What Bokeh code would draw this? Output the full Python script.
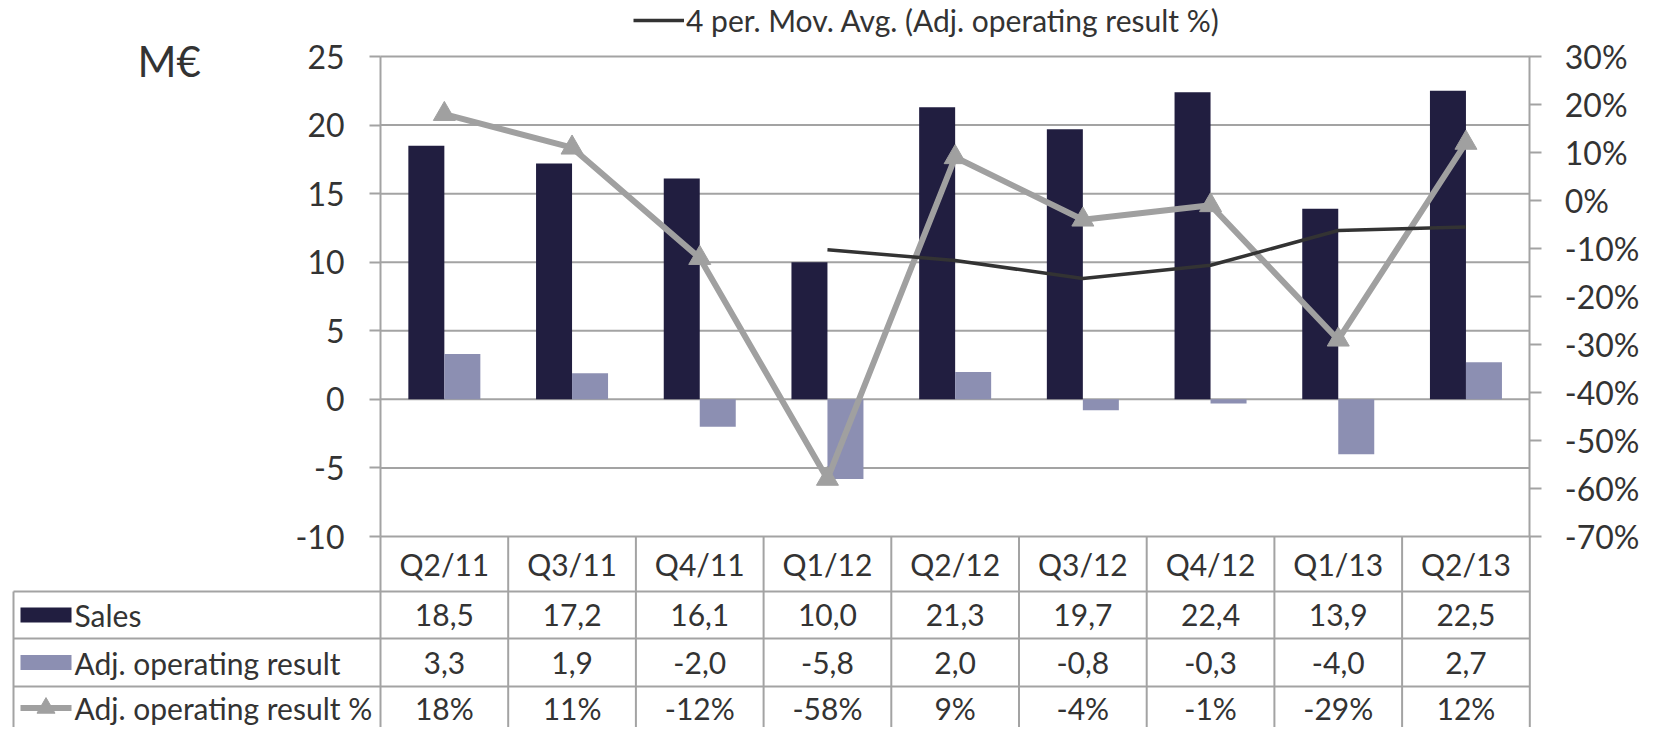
from bokeh.plotting import figure
from bokeh.models import Range1d, LinearAxis, FixedTicker, Label, Legend, LegendItem, ColumnDataSource
from bokeh.embed import file_html
from bokeh.resources import INLINE
from bokeh.core.properties import value

# ---------------- data ----------------
categories = ["Q2/11", "Q3/11", "Q4/11", "Q1/12", "Q2/12", "Q3/12", "Q4/12", "Q1/13", "Q2/13"]
sales = [18.5, 17.2, 16.1, 10.0, 21.3, 19.7, 22.4, 13.9, 22.5]
adj_result = [3.3, 1.9, -2.0, -5.8, 2.0, -0.8, -0.3, -4.0, 2.7]
adj_pct = [18, 11, -12, -58, 9, -4, -1, -29, 12]
mov_avg = [float("nan"), float("nan"), float("nan"), -10.25, -12.5, -16.25, -13.5, -6.25, -5.5]
left_ticks = [-10, -5, 0, 5, 10, 15, 20, 25]
right_ticks = [-70, -60, -50, -40, -30, -20, -10, 0, 10, 20, 30]
row_labels = ["Sales", "Adj. operating result", "Adj. operating result %"]
unit_label = "M€"
mov_label = "4 per. Mov. Avg. (Adj. operating result %)"

# ---------------- style ----------------
NAVY = "#211E40"
LAV = "#8C8FB2"
GRAY = "#A0A0A0"
GRID = "#A3A3A3"
DARK = "#333333"
TXT = "#333333"
FONT = "Lato"
TICK_SIZE = "32px"
TAB_SIZE = "30px"
UNIT_SIZE = "42px"

n = len(categories)
xs = [i + 0.5 for i in range(n)]

# geometry (pixels of the page)
W, H = 1650, 727
PX = 127.7                      # px per category
PLOT_L, PLOT_T, PLOT_B = 380, 56, 536
ymin, ymax = left_ticks[0], left_ticks[-1]
PY = (PLOT_B - PLOT_T) / (ymax - ymin)   # px per M€


def py_to_y(py):
    return ymax - (py - PLOT_T) / PY


def px_to_x(px):
    return (px - PLOT_L) / PX


rmin, rmax = right_ticks[0], right_ticks[-1]
k = (rmax - rmin) / (ymax - ymin)


def y_to_pct(y):
    return rmin + (y - ymin) * k


y_lo, y_hi = py_to_y(H), py_to_y(0)

p = figure(frame_width=W, frame_height=H,
           min_border_left=0, min_border_right=0, min_border_top=0, min_border_bottom=0,
           x_range=Range1d(px_to_x(0), px_to_x(W)), y_range=Range1d(y_lo, y_hi),
           x_axis_location=None, y_axis_location=None,
           output_backend="svg", toolbar_location=None, tools="")
p.outline_line_color = None
p.background_fill_color = "white"
p.border_fill_color = "white"
p.xgrid.visible = False
p.ygrid.visible = False

# left axis, fixed at the plot's left edge
la = LinearAxis(fixed_location=0, bounds=(ymin, ymax), ticker=FixedTicker(ticks=left_ticks),
                major_label_overrides={t: str(t) for t in left_ticks})
la.axis_line_color = GRID
la.axis_line_width = 2
la.major_tick_line_color = GRID
la.major_tick_line_width = 2
la.major_tick_out = 11
la.major_tick_in = 0
la.minor_tick_line_color = None
la.major_label_text_font = FONT
la.major_label_text_font_size = TICK_SIZE
la.major_label_text_color = TXT
la.major_label_standoff = 25
p.add_layout(la, "left")

# right axis (percent)
p.extra_y_ranges = {"pct": Range1d(y_to_pct(y_lo), y_to_pct(y_hi))}
ra = LinearAxis(y_range_name="pct", fixed_location=n, bounds=(rmin, rmax),
                ticker=FixedTicker(ticks=right_ticks),
                major_label_overrides={t: f"{t}%" for t in right_ticks})
ra.axis_line_color = GRID
ra.axis_line_width = 2
ra.major_tick_line_color = GRID
ra.major_tick_line_width = 2
ra.major_tick_out = 12
ra.major_tick_in = 0
ra.minor_tick_line_color = None
ra.major_label_text_font = FONT
ra.major_label_text_font_size = TICK_SIZE
ra.major_label_text_color = TXT
ra.major_label_standoff = 23
p.add_layout(ra, "right")

# horizontal gridlines across the plot area
p.segment(x0=[0] * len(left_ticks), y0=left_ticks, x1=[n] * len(left_ticks), y1=left_ticks,
          line_color=GRID, line_width=2)

bw = 36 / PX
src = ColumnDataSource(dict(
    x=xs, xs=[x - bw / 2 for x in xs], xa=[x + bw / 2 for x in xs],
    sales=sales, adj=adj_result, pct=adj_pct, mov=mov_avg))

p.vbar(x="xs", top="sales", bottom=0, width=bw, source=src, fill_color=NAVY, line_color=None)
p.vbar(x="xa", top="adj", bottom=0, width=bw, source=src, fill_color=LAV, line_color=None)
p.line(x="x", y="pct", source=src, y_range_name="pct", line_color=GRAY, line_width=6)
p.scatter(x="x", y="pct", source=src, y_range_name="pct", marker="triangle", size=22,
          fill_color=GRAY, line_color=GRAY)
mov_r = p.line(x="x", y="mov", source=src, y_range_name="pct", line_color=DARK, line_width=3.5)

LEG_H = 34
legend = Legend(items=[LegendItem(label=mov_label, renderers=[mov_r])],
                location=(633, H - 21 - LEG_H / 2), orientation="horizontal",
                padding=0, margin=0, spacing=0, label_standoff=2,
                glyph_width=51, glyph_height=LEG_H, label_height=LEG_H,
                label_text_font=FONT, label_text_font_size=TAB_SIZE, label_text_color=TXT,
                background_fill_alpha=0, border_line_color=None)
p.add_layout(legend, "center")

p.add_layout(Label(x=px_to_x(137), y=py_to_y(60), text=unit_label,
                   text_font=FONT, text_font_size=UNIT_SIZE, text_color=TXT,
                   text_align="left", text_baseline="middle"))

# ---------------- data table ----------------
row_edges_px = [536, 591, 638, 686, 729]
row_edges = [py_to_y(v) for v in row_edges_px]
row_mid = [(row_edges[i] + row_edges[i + 1]) / 2 for i in range(4)]
xl = px_to_x(13)

cols = list(range(n + 1))
p.segment(x0=cols, y0=[row_edges[0]] * len(cols), x1=cols, y1=[row_edges[-1]] * len(cols),
          line_color=GRID, line_width=2)
p.segment(x0=[xl], y0=[row_edges[1]], x1=[xl], y1=[row_edges[-1]], line_color=GRID, line_width=2)
p.segment(x0=[xl] * 3, y0=row_edges[1:4], x1=[n] * 3, y1=row_edges[1:4],
          line_color=GRID, line_width=2)

fmt = lambda v: f"{v:.1f}".replace(".", ",")
tab_x, tab_y, tab_t = [], [], []
for i in range(n):
    tab_x += [xs[i]] * 4
    tab_y += row_mid
    tab_t += [categories[i], fmt(sales[i]), fmt(adj_result[i]), f"{adj_pct[i]}%"]
p.text(x=tab_x, y=tab_y, text=tab_t, text_font=value(FONT), text_font_size=TAB_SIZE,
       text_color=TXT, text_align="center", text_baseline="middle")

p.text(x=[px_to_x(74)] * 3, y=row_mid[1:], text=row_labels, text_font=value(FONT),
       text_font_size=TAB_SIZE, text_color=TXT, text_align="left", text_baseline="middle")

sw0, sw1 = px_to_x(20), px_to_x(71)
p.rect(x=[(sw0 + sw1) / 2] * 2, y=row_mid[1:3], width=sw1 - sw0, height=15 / PY,
       fill_color=[NAVY, LAV], line_color=None)
p.line(x=[sw0, sw1], y=[row_mid[3]] * 2, line_color=GRAY, line_width=6)
p.scatter(x=[(sw0 + sw1) / 2], y=[row_mid[3]], marker="triangle", size=18,
          fill_color=GRAY, line_color=GRAY)

open("out.html", "w").write(file_html(p, INLINE))
